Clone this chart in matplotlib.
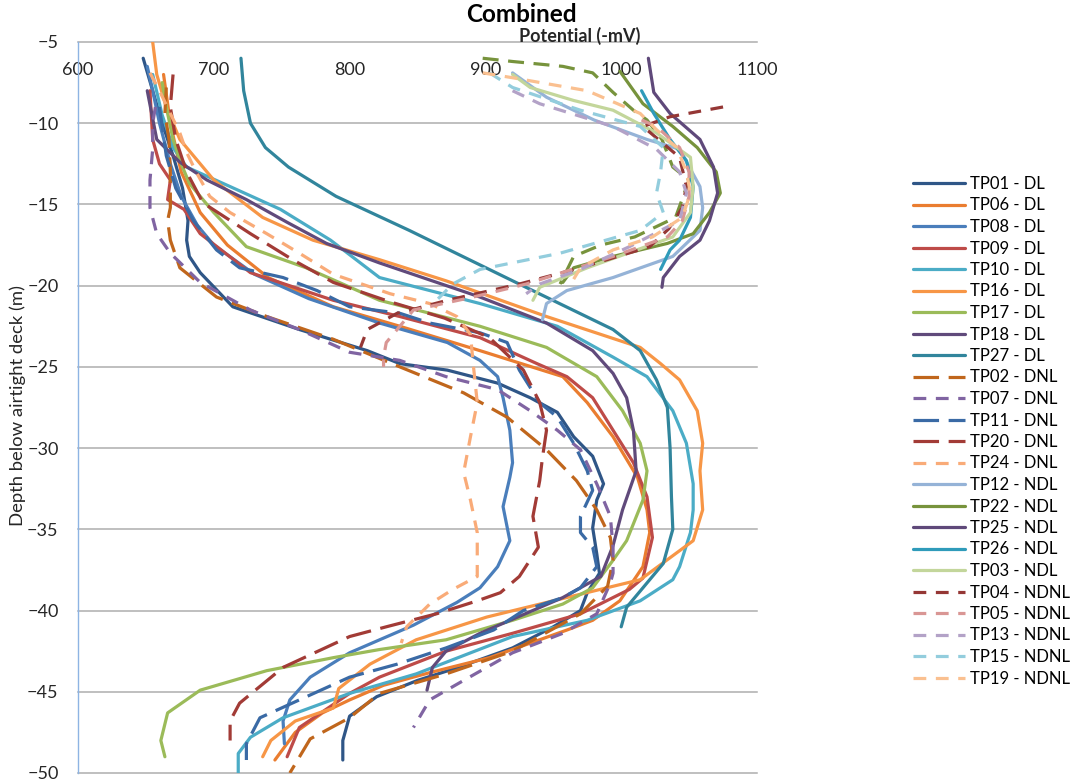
import matplotlib.pyplot as plt

# potential (-mV) and depth (m) for each test pile
tp01_mv = [648, 655, 662, 670, 677, 681, 680, 682, 690, 714, 763, 813, 837, 872, 909, 933, 953, 965, 979, 987, 982, 979, 982, 984, 975, 970, 950, 920, 880, 850, 820, 800, 795, 795]
tp01_d = [-6, -8, -10, -12, -14, -16, -17.2, -18.2, -19.2, -21.3, -22.7, -24, -24.8, -25.2, -26, -26.9, -27.8, -29.3, -30.5, -32.2, -33.2, -34.9, -36.5, -37.7, -38.9, -40, -41, -42.3, -43.5, -44.3, -45.3, -46.5, -48, -49.2]

tp06_mv = [663, 668, 676, 690, 710, 740, 788, 837, 896, 957, 975, 994, 1012, 1019, 1021, 1016, 999, 979, 960, 903, 860, 825, 800, 780, 760, 745]
tp06_d = [-7, -10, -13, -15.5, -17.5, -19.5, -21.3, -22.5, -24, -25.6, -27.2, -29.3, -31.8, -33.8, -35.2, -37.3, -39.4, -40.6, -41.2, -42.9, -43.8, -44.6, -45.5, -46.3, -47.5, -49.2]

tp08_mv = [651, 655, 660, 668, 676, 688, 700, 730, 770, 822, 872, 896, 909, 913, 918, 920, 918, 913, 918, 909, 896, 879, 847, 800, 771, 756, 751, 752]
tp08_d = [-6.5, -8, -10, -12.5, -14.5, -16.3, -17.5, -19.3, -20.8, -22.3, -23.5, -24.6, -25.6, -26.9, -28.9, -30.9, -31.8, -33.6, -35.7, -37.3, -38.6, -39.5, -40.9, -42.6, -44.1, -45.5, -46.8, -48.2]

tp09_mv = [653, 655, 660, 668, 666, 678, 690, 727, 788, 837, 896, 938, 960, 979, 994, 1009, 1019, 1023, 1016, 1006, 970, 920, 871, 822, 800, 763, 754]
tp09_d = [-8, -11, -12.5, -13.5, -14.7, -15.3, -16.8, -19.2, -20.9, -21.9, -23.2, -24.8, -25.6, -26.9, -28.9, -30.9, -33, -35.5, -38, -38.7, -40.2, -41.4, -42.5, -44.1, -45.1, -47.2, -49]

tp10_mv = [655, 662, 670, 680, 712, 749, 786, 822, 896, 953, 994, 1019, 1038, 1048, 1053, 1053, 1051, 1043, 1038, 1014, 975, 920, 849, 800, 751, 727, 718, 718]
tp10_d = [-7, -9.5, -11.5, -12.7, -13.9, -15.3, -17.2, -19.5, -21.1, -22.5, -24.4, -25.6, -27.7, -29.7, -32.2, -33.8, -35.2, -37.3, -38.1, -39.4, -40.6, -41.6, -43.9, -45.1, -46.6, -47.8, -48.8, -50]

tp16_mv = [655, 658, 665, 675, 700, 736, 773, 822, 871, 945, 1014, 1029, 1043, 1056, 1060, 1058, 1060, 1053, 1014, 950, 901, 849, 815, 792, 788, 760, 742, 736]
tp16_d = [-5, -7, -9, -11, -13.5, -15.8, -17.2, -18.4, -19.7, -21.9, -23.8, -24.8, -25.8, -27.7, -29.7, -31.4, -33.8, -35.7, -38.1, -39.4, -40.4, -41.8, -43.3, -44.8, -46, -46.8, -48, -49]

tp17_mv = [662, 665, 670, 676, 682, 700, 724, 768, 822, 896, 945, 982, 1001, 1014, 1019, 1016, 1004, 994, 979, 957, 920, 871, 822, 788, 739, 690, 666, 661, 664]
tp17_d = [-7.5, -9, -11, -12.5, -13.7, -15.5, -17.6, -18.9, -20.9, -22.5, -23.8, -25.6, -27.7, -29.7, -31.4, -33.2, -35.7, -36.9, -38.6, -39.6, -40.6, -41.8, -42.4, -42.9, -43.7, -44.9, -46.3, -48, -49]

tp18_mv = [651, 658, 675, 695, 724, 754, 783, 822, 896, 945, 979, 994, 1004, 1009, 1011, 1001, 994, 985, 957, 896, 871, 861, 857]
tp18_d = [-8, -11, -12.4, -13.5, -14.7, -16.1, -17.4, -18.6, -20.7, -22.3, -24, -25.4, -26.9, -28.9, -31.4, -33.8, -36, -37.9, -39.2, -41.4, -42.5, -43.5, -44.9]

tp27_mv = [720, 722, 727, 738, 755, 790, 844, 920, 994, 1014, 1026, 1034, 1036, 1037, 1038, 1031, 1016, 1004, 1000]
tp27_d = [-6, -8, -10, -11.5, -12.7, -14.5, -16.6, -19.7, -22.7, -24, -25.8, -27.5, -30, -33, -35, -37.1, -38.6, -39.8, -41]

tp02_mv = [665, 664, 667, 668, 668, 666, 668, 675, 702, 739, 788, 837, 884, 916, 945, 967, 982, 992, 994, 990, 970, 920, 871, 822, 800, 771, 756]
tp02_d = [-7.8, -9.4, -11, -13, -15.2, -16, -17.2, -18.9, -20.7, -21.9, -23.3, -25, -26.6, -28.1, -30.1, -32, -33.8, -35.5, -36.9, -38.5, -40.2, -42.5, -43.9, -45.1, -46.6, -47.9, -50]

tp07_mv = [657, 655, 655, 653, 653, 658, 668, 690, 727, 763, 800, 837, 871, 909, 933, 953, 970, 982, 992, 994, 994, 992, 982, 957, 920, 884, 859, 847]
tp07_d = [-9, -10, -11.6, -13.5, -15.2, -16.8, -18, -19.8, -21.5, -22.7, -24.1, -24.6, -25.6, -26.4, -27.7, -28.9, -30.1, -32.2, -34.2, -36.1, -37.7, -38.3, -40.2, -41.4, -42.6, -44.3, -45.5, -47.2]

tp11_mv = [660, 665, 672, 685, 702, 719, 751, 776, 800, 837, 859, 896, 916, 925, 940, 953, 965, 975, 979, 970, 970, 979, 982, 970, 957, 928, 906, 871, 835, 800, 763, 734, 724, 724]
tp11_d = [-9, -12, -14, -16, -17.8, -18.9, -19.5, -20.3, -21.3, -21.7, -22.3, -22.9, -23.5, -25.2, -27.2, -28.1, -29.7, -31.4, -32.6, -34.2, -35.2, -36.1, -37.3, -38.6, -39.2, -40, -41.2, -42.3, -43.3, -44.1, -45.5, -46.6, -48.2, -49.2]

tp20_mv = [670, 668, 672, 680, 692, 727, 758, 788, 830, 870, 903, 928, 940, 945, 942, 940, 935, 939, 925, 911, 894, 864, 827, 800, 751, 719, 712, 712]
tp20_d = [-7, -9, -11, -13, -14.9, -16.8, -18.4, -19.8, -21, -22, -23.2, -25.2, -27.2, -28.9, -30.6, -32, -34.2, -36.1, -37.9, -38.9, -39.4, -40.2, -41, -41.6, -43.5, -45.7, -46.8, -48]

tp24_mv = [653, 660, 668, 675, 680, 687, 697, 712, 739, 763, 788, 830, 859, 879, 889, 891, 894, 889, 884, 889, 894, 894, 876, 859, 842, 838]
tp24_d = [-6.9, -8, -9.4, -10.6, -11.8, -13, -14.5, -15.5, -16.8, -18, -19.3, -20.5, -21.1, -21.9, -23, -24.8, -27.2, -29.3, -31.5, -33.2, -35.2, -37.9, -38.7, -39.6, -41, -42]

tp12_mv = [920, 945, 980, 1019, 1043, 1058, 1060, 1058, 1038, 994, 960, 945, 942]
tp12_d = [-6.9, -8.4, -9.8, -11, -11.6, -13.9, -15.2, -16.6, -18.2, -19.5, -20.3, -21.1, -22.1]

tp22_mv = [999, 1016, 1038, 1056, 1070, 1073, 1065, 1053, 1034, 994, 965, 957]
tp22_d = [-6.8, -8.8, -10.2, -11.5, -13, -14.3, -15.5, -16.8, -17.4, -18.2, -18.9, -19.8]

tp25_mv = [1020, 1024, 1036, 1058, 1068, 1071, 1065, 1058, 1043, 1031, 1030]
tp25_d = [-6, -8.1, -9.4, -11, -12.7, -14.3, -16, -17.2, -18.2, -19.5, -20.1]

tp26_mv = [1015, 1024, 1036, 1048, 1053, 1051, 1043, 1036, 1029]
tp26_d = [-8, -9.4, -11, -12.3, -13.9, -15.8, -17.2, -17.8, -19]

tp03_mv = [920, 933, 965, 994, 1026, 1051, 1053, 1051, 1038, 975, 940, 935]
tp03_d = [-7, -7.8, -8.6, -9.2, -10.6, -12.1, -13.9, -15.5, -17, -18.9, -20.1, -20.9]

tp04_mv = [1075, 1036, 1016, 1043, 1048, 1045, 1035, 1021, 970, 925, 872, 845, 835, 813, 808]
tp04_d = [-9, -9.6, -10.2, -12.1, -13.9, -15.2, -16.5, -17.6, -18.9, -19.9, -20.9, -21.5, -21.7, -22.7, -23.8]

tp05_mv = [1015, 1026, 1043, 1050, 1050, 1045, 1034, 994, 930, 891, 847, 837, 827, 825, 825]
tp05_d = [-9.8, -10.2, -11.5, -13, -14.5, -16, -17, -18.2, -19.9, -20.7, -21.5, -22.5, -23.5, -24.4, -25]

tp13_mv = [920, 940, 994, 1026, 1043, 1048, 1043, 1006, 970, 940, 930]
tp13_d = [-8, -8.8, -10.2, -11.6, -13, -14.3, -16, -17.6, -19, -19.9, -20.5]

tp15_mv = [903, 920, 970, 1014, 1031, 1029, 1026, 1031, 1014, 955, 896, 876, 864, 862]
tp15_d = [-6.9, -7.8, -9.2, -10.2, -11.5, -13, -14.3, -15.5, -16.6, -18, -19, -19.9, -20.9, -21.3]

tp19_mv = [898, 920, 975, 1014, 1026, 1041, 1048, 1051, 1045, 1023, 994, 970, 965]
tp19_d = [-6.9, -7.2, -8, -9.4, -10.4, -11.5, -13, -14.3, -15.8, -17, -17.8, -18.9, -19.6]

# extra NDNL trace with no legend entry
tpx_mv = [898, 920, 957, 979, 994, 1009, 1019, 1030, 1038, 1050, 1040, 1010, 985, 965, 955]
tpx_d = [-6, -6.2, -6.5, -6.9, -8.1, -9.2, -9.8, -11, -12.7, -13.5, -15.8, -17, -17.5, -18.2, -19.9]

depth_ticks = [-5, -10, -15, -20, -25, -30, -35, -40, -45, -50]
mv_ticks = [600, 700, 800, 900, 1000, 1100]

SOLID = None
LONG = (8, 3)
DASH = (4, 3)

series = [
    ('TP01 - DL', tp01_mv, tp01_d, '#2F5687', SOLID),
    ('TP06 - DL', tp06_mv, tp06_d, '#EA7D30', SOLID),
    ('TP08 - DL', tp08_mv, tp08_d, '#4A7EBB', SOLID),
    ('TP09 - DL', tp09_mv, tp09_d, '#BE4B48', SOLID),
    ('TP10 - DL', tp10_mv, tp10_d, '#4BACC6', SOLID),
    ('TP16 - DL', tp16_mv, tp16_d, '#F79646', SOLID),
    ('TP17 - DL', tp17_mv, tp17_d, '#9BBB59', SOLID),
    ('TP18 - DL', tp18_mv, tp18_d, '#604A7B', SOLID),
    ('TP27 - DL', tp27_mv, tp27_d, '#31859C', SOLID),
    ('TP02 - DNL', tp02_mv, tp02_d, '#C0661C', LONG),
    ('TP07 - DNL', tp07_mv, tp07_d, '#8064A2', DASH),
    ('TP11 - DNL', tp11_mv, tp11_d, '#3A6AA5', LONG),
    ('TP20 - DNL', tp20_mv, tp20_d, '#A23B36', LONG),
    ('TP24 - DNL', tp24_mv, tp24_d, '#F9AB78', DASH),
    ('TP12 - NDL', tp12_mv, tp12_d, '#95B3D7', SOLID),
    ('TP22 - NDL', tp22_mv, tp22_d, '#77933C', SOLID),
    ('TP25 - NDL', tp25_mv, tp25_d, '#5F497A', SOLID),
    ('TP26 - NDL', tp26_mv, tp26_d, '#2F9BBA', SOLID),
    ('TP03 - NDL', tp03_mv, tp03_d, '#C3D69B', SOLID),
    ('TP04 - NDNL', tp04_mv, tp04_d, '#953735', DASH),
    ('TP05 - NDNL', tp05_mv, tp05_d, '#D99694', DASH),
    ('TP13 - NDNL', tp13_mv, tp13_d, '#B3A2C7', DASH),
    ('TP15 - NDNL', tp15_mv, tp15_d, '#93CDDD', DASH),
    ('TP19 - NDNL', tp19_mv, tp19_d, '#FAC090', DASH),
]

plt.rcParams['font.family'] = ['Lato', 'DejaVu Sans']

fig = plt.figure(figsize=(10.76, 7.83), dpi=100)
ax = fig.add_axes([78 / 1076, 1 - 773 / 783, 679 / 1076, 731 / 783])

for v in depth_ticks:
    ax.axhline(v, color='#ADADAD', lw=1.1, zorder=0, clip_on=False)

ax.plot(tpx_mv, tpx_d, color='#77933C', lw=2.3, dashes=(5, 3), label='_nolegend_')
for name, mv, d, col, dash in series:
    if dash is None:
        ax.plot(mv, d, color=col, lw=2.3, label=name, solid_capstyle='round',
                solid_joinstyle='round')
    else:
        ax.plot(mv, d, color=col, lw=2.3, dashes=dash, label=name)

ax.set_xlim(600, 1100)
ax.set_ylim(-50, -5)
ax.set_yticks(depth_ticks)
ax.set_xticks(mv_ticks)
ax.xaxis.set_ticks_position('top')
ax.tick_params(axis='x', length=0, pad=-26, labelsize=13, colors='#262626')
ax.tick_params(axis='y', length=0, pad=14, labelsize=13, colors='#262626')
for s in ['top', 'right', 'bottom']:
    ax.spines[s].set_visible(False)
ax.spines['left'].set_color('#8EB4E3')
ax.spines['left'].set_linewidth(1.0)

fig.text(521 / 1076, 1 - 15 / 783, 'Combined', ha='center', va='center',
         fontsize=17.5, fontweight='bold')
fig.text(580 / 1076, 1 - 36 / 783, 'Potential (-mV)', ha='center', va='center',
         fontsize=13, fontweight='bold', color='#262626')
fig.text(18 / 1076, 1 - 406 / 783, 'Depth below airtight deck (m)', ha='center',
         va='center', rotation=90, fontsize=13.3, color='#262626')

handles, labels = ax.get_legend_handles_labels()
ax.legend(handles, labels, loc='upper left', bbox_to_anchor=(913 / 1076, 1 - 176 / 783),
          bbox_transform=fig.transFigure, frameon=False, fontsize=12,
          handlelength=3.1, handletextpad=0.3, labelspacing=0.33, borderpad=0,
          borderaxespad=0)

plt.savefig('out.png', dpi=100)
